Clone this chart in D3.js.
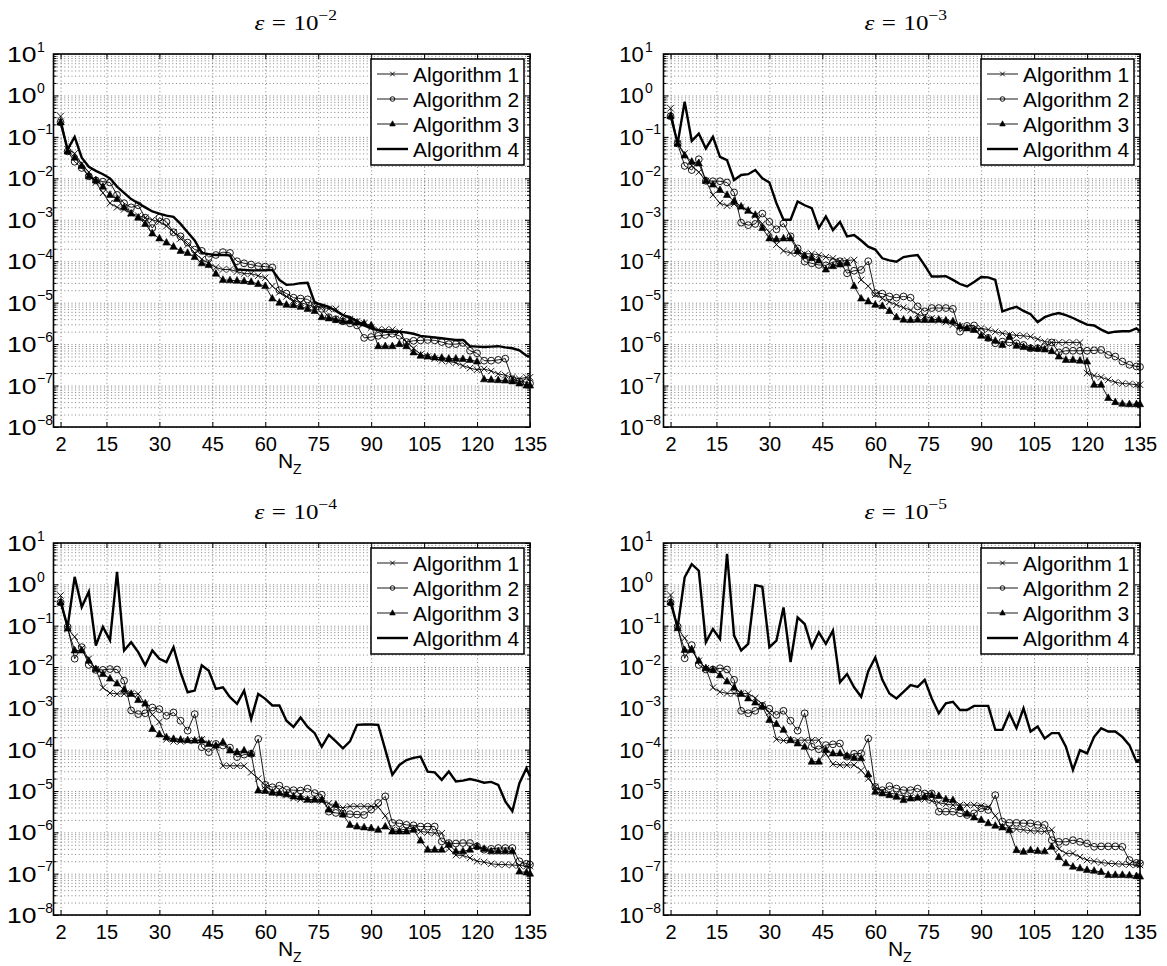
<!DOCTYPE html>
<html>
<head>
<meta charset="utf-8">
<script src="https://cdn.jsdelivr.net/npm/d3@7"></script>
<style>
  body { margin: 0; background: #fff; }
  svg { display: block; }
</style>
</head>
<body>
<svg id="fig" width="1167" height="966"></svg>
<script>
// Number of grid points N_Z at which each algorithm was run
const nz = [2,4,6,8,10,12,14,16,18,20,22,24,26,28,30,32,34,36,38,40,
            42,44,46,48,50,52,54,56,58,60,62,64,66,68,70,72,74,76,78,80,
            82,84,86,88,90,92,94,96,98,100,102,104,106,108,110,112,114,116,118,120,
            122,124,126,128,130,132,134,135];

const xTicks = [2,15,30,45,60,75,90,105,120,135];
const decades = [-8,-7,-6,-5,-4,-3,-2,-1,0,1];
const epsExponents = [-2,-3,-4,-5];
const legendLabels = ["Algorithm 1","Algorithm 2","Algorithm 3","Algorithm 4"];

// Errors, stored as log10 of the error, one value per N_Z
// eps = 1e-2
const a1_eps2 = [-0.5,-1.3,-1.4,-1.65,-1.85,-2.1,-2.35,-2.6,-2.7,-2.75,
  -2.85,-2.9,-2.95,-3.0,-3.05,-3.15,-3.3,-3.45,-3.6,-3.8,
  -3.95,-4.05,-4.15,-4.2,-4.2,-4.25,-4.3,-4.3,-4.35,-4.4,
  -4.6,-4.75,-4.85,-4.95,-5.0,-5.05,-5.1,-5.1,-5.15,-5.15,
  -5.3,-5.4,-5.45,-5.5,-5.6,-5.65,-5.65,-5.65,-5.7,-5.95,
  -6.1,-6.25,-6.3,-6.35,-6.4,-6.42,-6.45,-6.52,-6.58,-6.62,
  -6.6,-6.65,-6.72,-6.75,-6.8,-6.84,-6.8,-6.8];
const a2_eps2 = [-0.65,-1.35,-1.6,-1.75,-1.95,-2.05,-2.08,-2.1,-2.4,-2.6,
  -2.7,-2.65,-2.95,-3.2,-2.95,-3.05,-3.3,-3.4,-3.55,-3.72,
  -3.75,-3.9,-3.85,-3.78,-3.8,-4.0,-4.05,-4.08,-4.12,-4.13,
  -4.15,-4.7,-4.78,-4.88,-4.9,-4.92,-5.05,-5.15,-5.35,-5.4,
  -5.45,-5.5,-5.55,-5.85,-5.83,-5.8,-5.78,-5.75,-5.8,-5.95,
  -5.92,-5.91,-5.9,-5.91,-5.95,-6.0,-6.0,-5.97,-6.16,-6.22,
  -6.4,-6.4,-6.38,-6.35,-6.85,-6.9,-6.92,-6.95];
const a3_eps2 = [-0.65,-1.35,-1.5,-1.7,-1.95,-2.05,-2.2,-2.4,-2.5,-2.7,
  -2.85,-2.95,-3.1,-3.33,-3.45,-3.55,-3.65,-3.75,-3.8,-3.9,
  -4.05,-4.09,-4.3,-4.45,-4.46,-4.47,-4.48,-4.5,-4.55,-4.6,
  -4.9,-5.0,-5.05,-5.06,-5.1,-5.15,-5.2,-5.35,-5.38,-5.42,
  -5.45,-5.45,-5.48,-5.5,-5.55,-6.05,-6.05,-6.05,-6.0,-6.05,
  -6.2,-6.28,-6.3,-6.32,-6.33,-6.35,-6.35,-6.36,-6.38,-6.42,
  -6.85,-6.86,-6.87,-6.88,-6.9,-6.95,-7.0,-7.0];
const a4_eps2 = [-0.65,-1.3,-1.0,-1.5,-1.72,-1.82,-1.9,-2.0,-2.2,-2.35,
  -2.5,-2.6,-2.7,-2.8,-2.85,-2.9,-2.93,-3.1,-3.3,-3.5,
  -3.8,-3.83,-3.85,-3.85,-3.86,-4.2,-4.21,-4.22,-4.22,-4.22,
  -4.21,-4.45,-4.57,-4.56,-4.53,-4.52,-5.0,-5.05,-5.1,-5.2,
  -5.3,-5.35,-5.45,-5.55,-5.62,-5.67,-5.7,-5.7,-5.7,-5.72,
  -5.75,-5.8,-5.82,-5.84,-5.86,-5.88,-5.9,-5.9,-6.05,-6.06,
  -6.07,-6.06,-6.05,-6.08,-6.1,-6.15,-6.28,-6.3];

// eps = 1e-3
const a1_eps3 = [-0.31,-1.16,-1.4,-1.7,-1.85,-2.06,-2.4,-2.6,-2.66,-2.62,
  -2.7,-2.78,-2.9,-3.1,-3.3,-3.6,-3.75,-3.8,-3.82,-3.82,
  -3.82,-3.85,-3.9,-3.93,-4.0,-3.98,-3.97,-4.45,-4.6,-4.81,
  -4.9,-4.98,-5.05,-5.12,-5.18,-5.28,-5.33,-5.38,-5.43,-5.47,
  -5.53,-5.57,-5.62,-5.62,-5.62,-5.65,-5.7,-5.74,-5.77,-5.79,
  -5.8,-5.82,-5.88,-5.94,-5.96,-5.96,-5.96,-5.96,-5.96,-6.7,
  -6.76,-6.8,-6.86,-6.92,-6.95,-6.96,-6.98,-6.98];
const a2_eps3 = [-0.5,-1.16,-1.7,-1.8,-1.54,-2.06,-2.07,-2.07,-2.1,-2.34,
  -3.07,-3.13,-3.1,-2.85,-3.05,-3.23,-3.09,-3.4,-3.69,-4.01,
  -4.05,-4.09,-4.1,-4.02,-4.0,-4.29,-4.23,-4.21,-4.0,-4.77,
  -4.78,-4.85,-4.88,-4.85,-4.88,-5.09,-5.21,-5.13,-5.13,-5.13,
  -5.15,-5.7,-5.56,-5.55,-5.7,-5.85,-5.98,-5.94,-5.96,-5.98,
  -6.02,-6.1,-6.1,-6.07,-5.96,-6.2,-6.16,-6.16,-6.16,-6.16,
  -6.15,-6.14,-6.26,-6.3,-6.42,-6.5,-6.54,-6.55];
const a3_eps3 = [-0.5,-1.16,-1.45,-1.6,-1.64,-2.06,-2.15,-2.28,-2.4,-2.55,
  -2.68,-2.78,-2.88,-3.2,-3.45,-3.47,-3.45,-3.45,-3.75,-3.87,
  -3.92,-3.98,-4.2,-4.12,-4.08,-4.05,-4.6,-4.9,-4.97,-5.05,
  -5.08,-5.2,-5.35,-5.41,-5.42,-5.41,-5.42,-5.42,-5.41,-5.43,
  -5.45,-5.57,-5.62,-5.66,-5.8,-5.86,-5.92,-6.02,-5.82,-6.04,
  -6.07,-6.1,-6.11,-6.13,-6.17,-6.3,-6.38,-6.38,-6.4,-6.42,
  -6.98,-6.98,-7.3,-7.4,-7.44,-7.45,-7.45,-7.45];
const a4_eps3 = [-0.47,-1.16,-0.15,-1.1,-0.92,-1.28,-1.0,-1.48,-1.56,-2.04,
  -1.92,-1.9,-1.8,-2.0,-2.1,-2.6,-3.0,-3.0,-2.56,-2.65,
  -2.72,-3.2,-2.92,-3.25,-3.05,-3.4,-3.37,-3.5,-3.65,-3.72,
  -3.93,-3.98,-4.01,-3.9,-3.87,-3.85,-4.1,-4.37,-4.37,-4.36,
  -4.45,-4.55,-4.61,-4.5,-4.38,-4.39,-4.45,-5.21,-5.15,-5.1,
  -5.2,-5.28,-5.47,-5.35,-5.29,-5.25,-5.3,-5.37,-5.45,-5.53,
  -5.55,-5.65,-5.73,-5.7,-5.69,-5.69,-5.62,-5.69];

// eps = 1e-4
const a1_eps4 = [-0.27,-1.07,-1.27,-1.55,-1.8,-2.05,-2.5,-2.63,-2.65,-2.65,
  -2.64,-2.65,-2.9,-3.15,-3.33,-3.75,-3.8,-3.8,-3.79,-3.78,
  -3.75,-3.85,-3.95,-4.39,-4.39,-4.39,-4.39,-4.55,-4.7,-4.87,
  -5.0,-5.07,-5.1,-5.17,-5.2,-5.21,-5.22,-5.25,-5.3,-5.38,
  -5.41,-5.37,-5.37,-5.37,-5.37,-5.39,-5.6,-5.94,-5.95,-5.92,
  -5.9,-5.98,-6.0,-6.02,-6.02,-6.4,-6.55,-6.56,-6.62,-6.7,
  -6.72,-6.76,-6.78,-6.78,-6.79,-6.8,-6.82,-6.82];
const a2_eps4 = [-0.44,-1.03,-1.8,-1.52,-1.95,-2.07,-2.07,-2.05,-2.06,-2.33,
  -3.05,-3.14,-3.12,-2.98,-3.02,-3.18,-3.1,-3.3,-3.54,-3.14,
  -3.94,-4.06,-3.86,-3.9,-3.95,-4.18,-4.12,-4.1,-3.74,-4.85,
  -4.91,-4.87,-4.97,-4.98,-4.99,-4.94,-5.05,-5.09,-5.5,-5.53,
  -5.55,-5.56,-5.57,-5.58,-5.45,-5.29,-5.13,-5.77,-5.78,-5.82,
  -5.83,-5.86,-5.86,-5.86,-6.22,-6.26,-6.27,-6.26,-6.26,-6.34,
  -6.42,-6.4,-6.38,-6.38,-6.38,-6.7,-6.76,-6.78];
const a3_eps4 = [-0.44,-1.07,-1.6,-1.6,-1.85,-2.05,-2.17,-2.28,-2.4,-2.55,
  -2.65,-2.8,-2.88,-3.5,-3.63,-3.7,-3.74,-3.76,-3.77,-3.78,
  -3.78,-3.86,-3.9,-3.82,-4.02,-4.06,-4.02,-4.1,-4.99,-5.0,
  -5.04,-5.05,-5.08,-5.13,-5.15,-5.21,-5.21,-5.21,-5.45,-5.33,
  -5.57,-5.82,-5.86,-5.88,-5.9,-5.94,-5.86,-5.98,-5.98,-5.98,
  -5.94,-6.2,-6.42,-6.42,-6.42,-6.3,-6.46,-6.46,-6.42,-6.34,
  -6.4,-6.46,-6.46,-6.46,-6.46,-6.95,-6.97,-7.0];
const a4_eps4 = [-0.42,-1.03,0.18,-0.55,-0.18,-1.48,-1.03,-1.35,0.3,-1.6,
  -1.4,-1.64,-1.96,-1.6,-1.8,-1.88,-1.52,-2.13,-2.61,-2.57,
  -1.96,-2.09,-2.53,-2.49,-2.73,-2.89,-2.57,-3.26,-2.65,-2.77,
  -2.93,-2.93,-3.3,-3.45,-3.22,-3.45,-3.6,-3.93,-3.64,-3.8,
  -3.97,-3.8,-3.4,-3.39,-3.39,-3.4,-4.0,-4.61,-4.37,-4.25,
  -4.2,-4.17,-4.53,-4.55,-4.73,-4.53,-4.77,-4.75,-4.71,-4.75,
  -4.8,-4.78,-4.85,-5.25,-5.49,-4.81,-4.45,-4.65];

// eps = 1e-5
const a1_eps5 = [-0.26,-1.06,-1.3,-1.6,-1.85,-2.03,-2.5,-2.6,-2.64,-2.64,
  -2.64,-2.64,-2.75,-2.9,-3.1,-3.75,-3.78,-3.77,-3.77,-3.77,
  -3.77,-3.77,-4.1,-4.35,-4.37,-4.37,-4.37,-4.5,-4.7,-4.9,
  -5.02,-5.05,-5.08,-5.12,-5.15,-5.18,-5.2,-5.24,-5.28,-5.32,
  -5.34,-5.34,-5.34,-5.34,-5.36,-5.38,-5.6,-5.88,-5.9,-5.92,
  -5.94,-5.96,-5.97,-5.98,-5.94,-6.4,-6.51,-6.51,-6.6,-6.67,
  -6.7,-6.73,-6.75,-6.76,-6.77,-6.78,-6.79,-6.79];
const a2_eps5 = [-0.44,-1.02,-1.79,-1.47,-1.95,-2.06,-2.06,-2.03,-2.06,-2.31,
  -3.06,-3.12,-3.06,-2.94,-3.01,-3.16,-3.06,-3.3,-3.54,-3.12,
  -3.93,-3.99,-3.89,-3.87,-3.85,-4.17,-4.1,-4.09,-3.73,-4.9,
  -4.98,-4.88,-4.94,-4.98,-4.98,-4.94,-5.06,-5.06,-5.5,-5.5,
  -5.5,-5.54,-5.58,-5.54,-5.42,-5.46,-5.1,-5.74,-5.77,-5.77,
  -5.78,-5.78,-5.82,-5.82,-6.19,-6.23,-6.23,-6.19,-6.23,-6.27,
  -6.35,-6.34,-6.34,-6.34,-6.35,-6.67,-6.74,-6.75];
const a3_eps5 = [-0.44,-1.06,-1.59,-1.59,-1.85,-2.03,-2.07,-2.2,-2.35,-2.5,
  -2.65,-2.76,-2.86,-2.96,-3.28,-3.38,-3.52,-3.77,-3.85,-3.93,
  -4.29,-4.29,-4.01,-4.09,-4.09,-4.15,-4.2,-4.21,-4.6,-5.02,
  -5.06,-5.1,-5.14,-5.22,-5.18,-5.16,-5.14,-5.1,-5.12,-5.2,
  -5.22,-5.4,-5.55,-5.64,-5.7,-5.78,-5.84,-5.88,-5.95,-6.43,
  -6.47,-6.43,-6.45,-6.46,-6.35,-6.6,-6.75,-6.83,-6.87,-6.91,
  -6.93,-6.96,-7.03,-7.03,-7.03,-7.04,-7.06,-7.07];
const a4_eps5 = [-0.44,-1.04,0.17,0.49,0.33,-1.4,-1.08,-1.32,0.74,-1.24,
  -1.6,-1.44,-0.02,-0.06,-1.52,-1.36,-0.56,-1.88,-0.8,-0.96,
  -1.52,-1.16,-1.44,-1.12,-2.37,-2.17,-2.49,-2.72,-2.1,-1.77,
  -2.31,-2.64,-2.76,-2.6,-2.44,-2.48,-2.31,-2.76,-3.12,-2.88,
  -2.84,-3.04,-3.04,-2.94,-2.94,-2.94,-3.52,-3.52,-3.12,-3.48,
  -3.0,-3.56,-3.44,-3.73,-3.6,-3.6,-3.93,-4.49,-4.01,-4.09,
  -3.69,-3.48,-3.56,-3.56,-3.69,-3.89,-4.29,-4.25];

const panelSeries = [
  [a1_eps2, a2_eps2, a3_eps2, a4_eps2],
  [a1_eps3, a2_eps3, a3_eps3, a4_eps3],
  [a1_eps4, a2_eps4, a3_eps4, a4_eps4],
  [a1_eps5, a2_eps5, a3_eps5, a4_eps5]
];

const SANS = "'Liberation Sans', Arial, Helvetica, sans-serif";
const SERIF = "'Liberation Serif', 'Times New Roman', serif";

const svg = d3.select("#fig");

// Axes geometry: two columns, two rows
const cols = [
  { x0: 53.5, x1: 530, tenW: 29.5, tenDx: 46.5, supDx: 16.5 },
  { x0: 663.5, x1: 1140, tenW: 24.5, tenDx: 44.2, supDx: 18.5 }
];
const rows = [ { y0: 54, y1: 427 }, { y0: 543, y1: 915 } ];

// Marker shapes
function drawMarker(sel, kind, s) {
  if (kind === 0) {
    sel.append("path")
      .attr("d", `M${-s},${-s}L${s},${s}M${-s},${s}L${s},${-s}`)
      .attr("stroke", "#000").attr("stroke-width", 0.9).attr("fill", "none");
  } else if (kind === 1) {
    sel.append("circle").attr("r", s)
      .attr("stroke", "#000").attr("stroke-width", 0.9).attr("fill", "none");
  } else if (kind === 2) {
    sel.append("path")
      .attr("d", `M0,${-s * 1.15}L${s},${s * 0.7}L${-s},${s * 0.7}Z`)
      .attr("fill", "#000").attr("stroke", "#000").attr("stroke-width", 0.6);
  }
}
const markerSize = [3.2, 3.4, 3.6];
const legendMarkerSize = [2.3, 2.3, 2.8];

// Log-spaced minor grid values
const minorVals = [];
decades.slice(0, -1).forEach(d => {
  for (let m = 1; m < 10; m++) minorVals.push(m * Math.pow(10, d));
});
minorVals.push(10);

panelSeries.forEach((series, k) => {
  const c = cols[k % 2], r = rows[Math.floor(k / 2)];
  const x = d3.scaleLinear().domain([0, 135]).range([c.x0, c.x1]);
  const y = d3.scaleLog().domain([1e-8, 10]).range([r.y1, r.y0]);
  const g = svg.append("g");

  // dotted grid
  const gridStyle = s => s.call(a => a.select(".domain").remove())
    .selectAll(".tick line")
      .attr("stroke", "#000").attr("stroke-opacity", 0.7)
      .attr("stroke-width", 0.7).attr("stroke-dasharray", "1,2.6");
  g.append("g").attr("transform", `translate(${c.x0},0)`)
    .call(d3.axisLeft(y).tickValues(minorVals).tickSize(-(c.x1 - c.x0)).tickFormat(""))
    .call(gridStyle);
  g.append("g").attr("transform", `translate(0,${r.y1})`)
    .call(d3.axisBottom(x).tickValues(xTicks).tickSize(-(r.y1 - r.y0)).tickFormat(""))
    .call(gridStyle);

  // series
  const line = d3.line()
    .x((d, i) => x(nz[i]))
    .y(d => y(Math.pow(10, d)));
  series.forEach((vals, s) => {
    const v = vals.slice(0, nz.length);
    g.append("path").datum(v)
      .attr("d", line)
      .attr("fill", "none").attr("stroke", "#000")
      .attr("stroke-width", s === 3 ? 2.4 : 0.9)
      .attr("stroke-linejoin", "miter");
    if (s < 3) {
      g.append("g").selectAll("g").data(v).join("g")
        .attr("transform", (d, i) => `translate(${x(nz[i])},${y(Math.pow(10, d))})`)
        .each(function () { drawMarker(d3.select(this), s, markerSize[s]); });
    }
  });

  // ticks (inward, on all four sides)
  const tickStyle = s => s.call(a => a.select(".domain").remove())
    .selectAll(".tick line").attr("stroke", "#000").attr("stroke-width", 1);
  const minorOnly = minorVals.filter(v => !decades.some(d => Math.abs(Math.log10(v) - d) < 1e-9));
  g.append("g").attr("transform", `translate(${c.x0},0)`)
    .call(d3.axisLeft(y).tickValues(minorOnly).tickSize(-3).tickFormat("")).call(tickStyle);
  g.append("g").attr("transform", `translate(${c.x1},0)`)
    .call(d3.axisRight(y).tickValues(minorOnly).tickSize(-3).tickFormat("")).call(tickStyle);
  g.append("g").attr("transform", `translate(${c.x1},0)`)
    .call(d3.axisRight(y).tickValues(decades.map(d => Math.pow(10, d))).tickSize(-5).tickFormat("")).call(tickStyle);
  g.append("g").attr("transform", `translate(0,${r.y0})`)
    .call(d3.axisTop(x).tickValues(xTicks).tickSize(-5).tickFormat("")).call(tickStyle);

  // left axis with 10^k labels
  const yAx = g.append("g").attr("transform", `translate(${c.x0},0)`)
    .call(d3.axisLeft(y).tickValues(decades.map(d => Math.pow(10, d))).tickSize(-5).tickFormat(""))
    .call(tickStyle);
  yAx.selectAll(".tick").each(function (d) {
    const t = d3.select(this);
    const e = Math.round(Math.log10(d));
    t.append("text").attr("x", -c.tenDx).attr("y", 7.5)
      .attr("text-anchor", "start").attr("fill", "#000")
      .attr("font-family", SANS).attr("font-size", 22)
      .attr("textLength", c.tenW).attr("lengthAdjust", "spacingAndGlyphs")
      .text("10");
    t.append("text").attr("x", -c.supDx).attr("y", -3)
      .attr("text-anchor", "start").attr("fill", "#000")
      .attr("font-family", SANS).attr("font-size", 14)
      .text(e < 0 ? "\u2212" + (-e) : String(e));
  });

  // bottom axis with tick labels
  g.append("g").attr("transform", `translate(0,${r.y1})`)
    .call(d3.axisBottom(x).tickValues(xTicks).tickSize(-5).tickPadding(10))
    .call(a => a.select(".domain").remove())
    .call(a => a.selectAll(".tick line").attr("stroke", "#000").attr("stroke-width", 1))
    .call(a => a.selectAll(".tick text")
      .attr("font-family", SANS).attr("font-size", 20).attr("fill", "#000"));

  // axes box
  g.append("rect")
    .attr("x", c.x0).attr("y", r.y0)
    .attr("width", c.x1 - c.x0).attr("height", r.y1 - r.y0)
    .attr("fill", "none").attr("stroke", "#000").attr("stroke-width", 1.6);

  // x label N_Z
  const xl = g.append("text")
    .attr("x", (c.x0 + c.x1) / 2 - 2).attr("y", r.y1 + 41)
    .attr("text-anchor", "middle").attr("font-family", SANS).attr("font-size", 21);
  xl.append("tspan").text("N");
  xl.append("tspan").attr("font-size", 14).attr("dy", 6).text("Z");

  // title: epsilon = 10^k
  const cx = (c.x0 + c.x1) / 2 + 4;
  const tg = g.append("g").attr("transform", `translate(${cx},${r.y0 - 24}) scale(1.25,1)`);
  const tt = tg.append("text").attr("text-anchor", "middle")
    .attr("font-family", SERIF).attr("font-size", 20).attr("fill", "#000");
  tt.append("tspan").attr("font-style", "italic").text("\u03b5");
  tt.append("tspan").attr("dx", 6).text("=");
  tt.append("tspan").attr("dx", 6).text("10");
  tt.append("tspan").attr("dy", -10).attr("font-size", 14)
    .text("\u2212" + (-epsExponents[k]));

  // legend
  const lx0 = c.x1 - 159, ly0 = r.y0 + 5;
  const lg = g.append("g");
  lg.append("rect").attr("x", lx0).attr("y", ly0).attr("width", 153).attr("height", 106)
    .attr("fill", "#fff").attr("stroke", "#000").attr("stroke-width", 1.5);
  legendLabels.forEach((lab, s) => {
    const cy = ly0 + 15 + s * 25;
    lg.append("line").attr("x1", lx0 + 6).attr("x2", lx0 + 37)
      .attr("y1", cy).attr("y2", cy)
      .attr("stroke", "#000").attr("stroke-width", s === 3 ? 2.4 : 0.9);
    if (s < 3) {
      const mg = lg.append("g").attr("transform", `translate(${lx0 + 21.5},${cy})`);
      drawMarker(mg, s, legendMarkerSize[s]);
    }
    lg.append("text").attr("x", lx0 + 42).attr("y", cy + 7.5)
      .attr("font-family", SANS).attr("font-size", 21).attr("fill", "#000")
      .text(lab);
  });
});
</script>
</body>
</html>
